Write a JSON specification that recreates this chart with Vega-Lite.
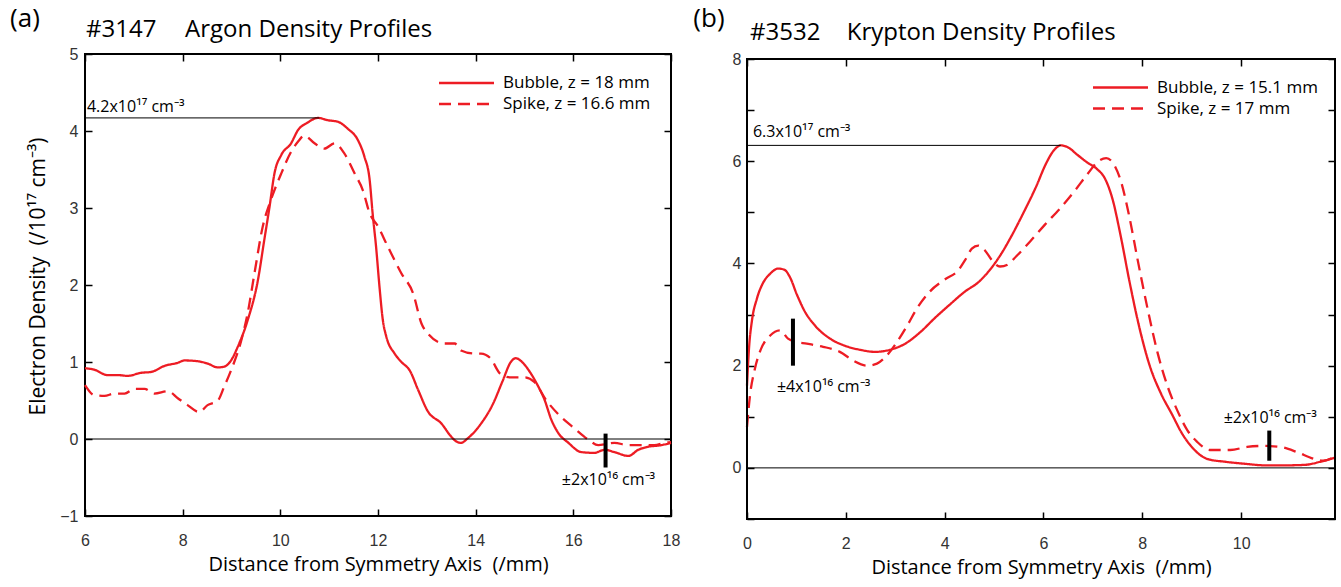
{
  "$schema": "https://vega.github.io/schema/vega-lite/v6.json",
  "background": "white",
  "padding": {"left": 9, "top": 4, "right": 0, "bottom": 8},
  "spacing": 12,
  "bounds": "full",
  "resolve": {"scale": {"strokeDash": "independent"}, "legend": {"strokeDash": "independent"}},
  "config": {
    "view": {"stroke": "#000", "strokeWidth": 2},
    "font": "Open Sans",
    "axis": {
      "domain": false, "grid": false, "ticks": true, "tickColor": "#000", "tickWidth": 1.5, "tickSize": -7,
      "labelFont": "Liberation Sans", "labelFontSize": 16, "labelColor": "#333", "labelFlush": false,
      "titleFont": "Open Sans", "titleFontSize": 20, "titleFontWeight": "normal", "titleColor": "#000"
    },
    "legend": {
      "orient": "none", "title": null, "symbolType": "M-5,0H5", "symbolSize": 121, "symbolStrokeWidth": 2.3,
      "symbolStrokeColor": "#ED1C24", "labelFont": "Open Sans", "labelFontSize": 17, "labelColor": "#000",
      "labelOffset": 28, "rowPadding": 3, "padding": 0, "labelLimit": 400
    },
    "text": {"font": "Open Sans", "color": "#000"}
  },
  "hconcat": [
    {
      "width": 586,
      "height": 462,
      "resolve": {"axis": {"x": "independent", "y": "independent"}},
      "layer": [
        {
          "data": {"values": [
            {"x": 6.0, "y": 0.92, "s": "Bubble, z = 18 mm"}, {"x": 6.19, "y": 0.90, "s": "Bubble, z = 18 mm"}, {"x": 6.46, "y": 0.83, "s": "Bubble, z = 18 mm"}, {"x": 6.67, "y": 0.83, "s": "Bubble, z = 18 mm"}, {"x": 6.87, "y": 0.82, "s": "Bubble, z = 18 mm"}, {"x": 7.15, "y": 0.86, "s": "Bubble, z = 18 mm"}, {"x": 7.35, "y": 0.87, "s": "Bubble, z = 18 mm"}, {"x": 7.63, "y": 0.95, "s": "Bubble, z = 18 mm"}, {"x": 7.90, "y": 0.99, "s": "Bubble, z = 18 mm"}, {"x": 8.04, "y": 1.02, "s": "Bubble, z = 18 mm"}, {"x": 8.31, "y": 1.01, "s": "Bubble, z = 18 mm"}, {"x": 8.51, "y": 0.98, "s": "Bubble, z = 18 mm"}, {"x": 8.72, "y": 0.93, "s": "Bubble, z = 18 mm"}, {"x": 8.85, "y": 0.94, "s": "Bubble, z = 18 mm"}, {"x": 8.99, "y": 1.02, "s": "Bubble, z = 18 mm"}, {"x": 9.13, "y": 1.20, "s": "Bubble, z = 18 mm"}, {"x": 9.33, "y": 1.54, "s": "Bubble, z = 18 mm"}, {"x": 9.54, "y": 2.06, "s": "Bubble, z = 18 mm"}, {"x": 9.67, "y": 2.58, "s": "Bubble, z = 18 mm"}, {"x": 9.78, "y": 3.02, "s": "Bubble, z = 18 mm"}, {"x": 9.88, "y": 3.45, "s": "Bubble, z = 18 mm"}, {"x": 10.02, "y": 3.69, "s": "Bubble, z = 18 mm"}, {"x": 10.22, "y": 3.84, "s": "Bubble, z = 18 mm"}, {"x": 10.36, "y": 4.01, "s": "Bubble, z = 18 mm"}, {"x": 10.56, "y": 4.11, "s": "Bubble, z = 18 mm"}, {"x": 10.77, "y": 4.17, "s": "Bubble, z = 18 mm"}, {"x": 10.97, "y": 4.14, "s": "Bubble, z = 18 mm"}, {"x": 11.18, "y": 4.12, "s": "Bubble, z = 18 mm"}, {"x": 11.38, "y": 4.03, "s": "Bubble, z = 18 mm"}, {"x": 11.59, "y": 3.88, "s": "Bubble, z = 18 mm"}, {"x": 11.72, "y": 3.67, "s": "Bubble, z = 18 mm"}, {"x": 11.83, "y": 3.36, "s": "Bubble, z = 18 mm"}, {"x": 11.89, "y": 2.93, "s": "Bubble, z = 18 mm"}, {"x": 11.96, "y": 2.50, "s": "Bubble, z = 18 mm"}, {"x": 12.03, "y": 1.98, "s": "Bubble, z = 18 mm"}, {"x": 12.10, "y": 1.54, "s": "Bubble, z = 18 mm"}, {"x": 12.17, "y": 1.33, "s": "Bubble, z = 18 mm"}, {"x": 12.34, "y": 1.11, "s": "Bubble, z = 18 mm"}, {"x": 12.48, "y": 1.00, "s": "Bubble, z = 18 mm"}, {"x": 12.65, "y": 0.89, "s": "Bubble, z = 18 mm"}, {"x": 12.82, "y": 0.64, "s": "Bubble, z = 18 mm"}, {"x": 13.02, "y": 0.36, "s": "Bubble, z = 18 mm"}, {"x": 13.30, "y": 0.20, "s": "Bubble, z = 18 mm"}, {"x": 13.50, "y": 0.03, "s": "Bubble, z = 18 mm"}, {"x": 13.60, "y": -0.03, "s": "Bubble, z = 18 mm"}, {"x": 13.70, "y": -0.05, "s": "Bubble, z = 18 mm"}, {"x": 13.84, "y": 0.01, "s": "Bubble, z = 18 mm"}, {"x": 14.11, "y": 0.20, "s": "Bubble, z = 18 mm"}, {"x": 14.35, "y": 0.45, "s": "Bubble, z = 18 mm"}, {"x": 14.55, "y": 0.75, "s": "Bubble, z = 18 mm"}, {"x": 14.72, "y": 1.00, "s": "Bubble, z = 18 mm"}, {"x": 14.82, "y": 1.05, "s": "Bubble, z = 18 mm"}, {"x": 14.95, "y": 1.00, "s": "Bubble, z = 18 mm"}, {"x": 15.10, "y": 0.88, "s": "Bubble, z = 18 mm"}, {"x": 15.25, "y": 0.72, "s": "Bubble, z = 18 mm"}, {"x": 15.41, "y": 0.51, "s": "Bubble, z = 18 mm"}, {"x": 15.55, "y": 0.25, "s": "Bubble, z = 18 mm"}, {"x": 15.69, "y": 0.08, "s": "Bubble, z = 18 mm"}, {"x": 15.90, "y": -0.05, "s": "Bubble, z = 18 mm"}, {"x": 16.16, "y": -0.17, "s": "Bubble, z = 18 mm"}, {"x": 16.43, "y": -0.18, "s": "Bubble, z = 18 mm"}, {"x": 16.64, "y": -0.14, "s": "Bubble, z = 18 mm"}, {"x": 16.84, "y": -0.17, "s": "Bubble, z = 18 mm"}, {"x": 17.13, "y": -0.22, "s": "Bubble, z = 18 mm"}, {"x": 17.33, "y": -0.14, "s": "Bubble, z = 18 mm"}, {"x": 17.54, "y": -0.10, "s": "Bubble, z = 18 mm"}, {"x": 17.80, "y": -0.08, "s": "Bubble, z = 18 mm"}, {"x": 18.0, "y": -0.05, "s": "Bubble, z = 18 mm"},
            {"x": 6.0, "y": 0.70, "s": "Spike, z = 16.6 mm"}, {"x": 6.19, "y": 0.57, "s": "Spike, z = 16.6 mm"}, {"x": 6.40, "y": 0.56, "s": "Spike, z = 16.6 mm"}, {"x": 6.60, "y": 0.59, "s": "Spike, z = 16.6 mm"}, {"x": 6.81, "y": 0.59, "s": "Spike, z = 16.6 mm"}, {"x": 7.01, "y": 0.65, "s": "Spike, z = 16.6 mm"}, {"x": 7.22, "y": 0.65, "s": "Spike, z = 16.6 mm"}, {"x": 7.42, "y": 0.59, "s": "Spike, z = 16.6 mm"}, {"x": 7.70, "y": 0.62, "s": "Spike, z = 16.6 mm"}, {"x": 7.90, "y": 0.53, "s": "Spike, z = 16.6 mm"}, {"x": 8.10, "y": 0.44, "s": "Spike, z = 16.6 mm"}, {"x": 8.34, "y": 0.35, "s": "Spike, z = 16.6 mm"}, {"x": 8.51, "y": 0.44, "s": "Spike, z = 16.6 mm"}, {"x": 8.72, "y": 0.50, "s": "Spike, z = 16.6 mm"}, {"x": 8.85, "y": 0.68, "s": "Spike, z = 16.6 mm"}, {"x": 8.99, "y": 0.89, "s": "Spike, z = 16.6 mm"}, {"x": 9.20, "y": 1.28, "s": "Spike, z = 16.6 mm"}, {"x": 9.33, "y": 1.63, "s": "Spike, z = 16.6 mm"}, {"x": 9.47, "y": 2.15, "s": "Spike, z = 16.6 mm"}, {"x": 9.64, "y": 2.76, "s": "Spike, z = 16.6 mm"}, {"x": 9.81, "y": 3.11, "s": "Spike, z = 16.6 mm"}, {"x": 10.02, "y": 3.45, "s": "Spike, z = 16.6 mm"}, {"x": 10.22, "y": 3.73, "s": "Spike, z = 16.6 mm"}, {"x": 10.36, "y": 3.86, "s": "Spike, z = 16.6 mm"}, {"x": 10.49, "y": 3.94, "s": "Spike, z = 16.6 mm"}, {"x": 10.70, "y": 3.84, "s": "Spike, z = 16.6 mm"}, {"x": 10.90, "y": 3.77, "s": "Spike, z = 16.6 mm"}, {"x": 11.11, "y": 3.84, "s": "Spike, z = 16.6 mm"}, {"x": 11.31, "y": 3.71, "s": "Spike, z = 16.6 mm"}, {"x": 11.52, "y": 3.45, "s": "Spike, z = 16.6 mm"}, {"x": 11.69, "y": 3.23, "s": "Spike, z = 16.6 mm"}, {"x": 11.83, "y": 2.93, "s": "Spike, z = 16.6 mm"}, {"x": 12.00, "y": 2.76, "s": "Spike, z = 16.6 mm"}, {"x": 12.20, "y": 2.50, "s": "Spike, z = 16.6 mm"}, {"x": 12.48, "y": 2.15, "s": "Spike, z = 16.6 mm"}, {"x": 12.72, "y": 1.89, "s": "Spike, z = 16.6 mm"}, {"x": 12.89, "y": 1.50, "s": "Spike, z = 16.6 mm"}, {"x": 13.02, "y": 1.37, "s": "Spike, z = 16.6 mm"}, {"x": 13.36, "y": 1.24, "s": "Spike, z = 16.6 mm"}, {"x": 13.57, "y": 1.24, "s": "Spike, z = 16.6 mm"}, {"x": 13.70, "y": 1.15, "s": "Spike, z = 16.6 mm"}, {"x": 13.98, "y": 1.11, "s": "Spike, z = 16.6 mm"}, {"x": 14.11, "y": 1.11, "s": "Spike, z = 16.6 mm"}, {"x": 14.30, "y": 1.05, "s": "Spike, z = 16.6 mm"}, {"x": 14.50, "y": 0.85, "s": "Spike, z = 16.6 mm"}, {"x": 14.70, "y": 0.80, "s": "Spike, z = 16.6 mm"}, {"x": 15.00, "y": 0.80, "s": "Spike, z = 16.6 mm"}, {"x": 15.20, "y": 0.74, "s": "Spike, z = 16.6 mm"}, {"x": 15.45, "y": 0.50, "s": "Spike, z = 16.6 mm"}, {"x": 15.71, "y": 0.31, "s": "Spike, z = 16.6 mm"}, {"x": 16.02, "y": 0.14, "s": "Spike, z = 16.6 mm"}, {"x": 16.31, "y": -0.01, "s": "Spike, z = 16.6 mm"}, {"x": 16.51, "y": -0.08, "s": "Spike, z = 16.6 mm"}, {"x": 16.84, "y": -0.05, "s": "Spike, z = 16.6 mm"}, {"x": 17.13, "y": -0.08, "s": "Spike, z = 16.6 mm"}, {"x": 17.39, "y": -0.08, "s": "Spike, z = 16.6 mm"}, {"x": 17.66, "y": -0.08, "s": "Spike, z = 16.6 mm"}, {"x": 17.87, "y": -0.05, "s": "Spike, z = 16.6 mm"}, {"x": 18.0, "y": -0.04, "s": "Spike, z = 16.6 mm"}
          ]},
          "mark": {"type": "line", "interpolate": "monotone", "strokeWidth": 2.3, "color": "#ED1C24"},
          "encoding": {
            "x": {"field": "x", "type": "quantitative", "scale": {"domain": [6, 18], "nice": false, "zero": false},
                  "axis": {"orient": "bottom", "values": [6, 8, 10, 12, 14, 16, 18], "title": "Distance from Symmetry Axis \u00a0(/mm)", "labelPadding": 23, "titlePadding": 6}},
            "y": {"field": "y", "type": "quantitative", "scale": {"domain": [-1, 5], "nice": false, "zero": false},
                  "axis": {"orient": "left", "values": [-1, 0, 1, 2, 3, 4, 5], "title": "Electron Density \u00a0(/10¹⁷ cm⁻³)", "titleFontSize": 21, "titleY": 222, "labelPadding": 14, "titlePadding": 11}},
            "strokeDash": {"field": "s", "type": "nominal",
                  "scale": {"domain": ["Bubble, z = 18 mm", "Spike, z = 16.6 mm"], "range": [[1, 0], [12, 7]]},
                  "legend": {"legendX": 373, "legendY": 20.5, "symbolType": "M-5,0H5", "symbolSize": 121}}
          }
        },
        {
          "data": {"values": [{"y": 0}]},
          "mark": {"type": "rule", "color": "#000", "strokeWidth": 1},
          "encoding": {
            "y": {"field": "y", "type": "quantitative", "scale": {"domain": [-1, 5], "nice": false, "zero": false},
                  "axis": {"orient": "right", "values": [-1, 0, 1, 2, 3, 4, 5], "labels": false, "title": null}}
          }
        },
        {
          "data": {"values": [{"x": 6, "x2": 10.8, "y": 4.17}]},
          "mark": {"type": "rule", "color": "#000", "strokeWidth": 1},
          "encoding": {
            "x": {"field": "x", "type": "quantitative", "scale": {"domain": [6, 18], "nice": false, "zero": false},
                  "axis": {"orient": "top", "values": [6, 8, 10, 12, 14, 16, 18], "labels": false, "title": null}},
            "x2": {"field": "x2"},
            "y": {"field": "y", "type": "quantitative", "scale": {"domain": [-1, 5], "nice": false, "zero": false}, "axis": null}
          }
        },
        {
          "data": {"values": [{"x": 16.66, "y": 0.07, "y2": -0.37}]},
          "mark": {"type": "rule", "color": "#000", "strokeWidth": 4},
          "encoding": {
            "x": {"field": "x", "type": "quantitative", "scale": {"domain": [6, 18], "nice": false, "zero": false}, "axis": null},
            "y": {"field": "y", "type": "quantitative", "scale": {"domain": [-1, 5], "nice": false, "zero": false}, "axis": null},
            "y2": {"field": "y2"}
          }
        },
        {
          "data": {"values": [{"x": 4.77, "y": 5.455, "t": "(a)"}]},
          "mark": {"type": "text", "fontSize": 26, "align": "center", "baseline": "middle"},
          "encoding": {
            "x": {"field": "x", "type": "quantitative", "scale": {"domain": [6, 18], "nice": false, "zero": false}, "axis": null},
            "y": {"field": "y", "type": "quantitative", "scale": {"domain": [-1, 5], "nice": false, "zero": false}, "axis": null},
            "text": {"field": "t"}
          }
        },
        {
          "data": {"values": [{"x": 6.02, "y": 5.31, "t": "#3147"}, {"x": 8.05, "y": 5.31, "t": "Argon Density Profiles"}]},
          "mark": {"type": "text", "fontSize": 24, "align": "left", "baseline": "middle"},
          "encoding": {
            "x": {"field": "x", "type": "quantitative", "scale": {"domain": [6, 18], "nice": false, "zero": false}, "axis": null},
            "y": {"field": "y", "type": "quantitative", "scale": {"domain": [-1, 5], "nice": false, "zero": false}, "axis": null},
            "text": {"field": "t"}
          }
        },
        {
          "data": {"values": [{"x": 6.04, "y": 4.31, "t": "4.2x10¹⁷ cm⁻³"}]},
          "mark": {"type": "text", "fontSize": 16, "align": "left", "baseline": "middle"},
          "encoding": {
            "x": {"field": "x", "type": "quantitative", "scale": {"domain": [6, 18], "nice": false, "zero": false}, "axis": null},
            "y": {"field": "y", "type": "quantitative", "scale": {"domain": [-1, 5], "nice": false, "zero": false}, "axis": null},
            "text": {"field": "t"}
          }
        },
        {
          "data": {"values": [{"x": 16.72, "y": -0.53, "t": "±2x10¹⁶ cm⁻³"}]},
          "mark": {"type": "text", "fontSize": 16, "align": "center", "baseline": "middle"},
          "encoding": {
            "x": {"field": "x", "type": "quantitative", "scale": {"domain": [6, 18], "nice": false, "zero": false}, "axis": null},
            "y": {"field": "y", "type": "quantitative", "scale": {"domain": [-1, 5], "nice": false, "zero": false}, "axis": null},
            "text": {"field": "t"}
          }
        }
      ]
    },
    {
      "width": 588,
      "height": 465,
      "view": {"stroke": null},
      "resolve": {"axis": {"x": "independent", "y": "independent"}},
      "layer": [
        {
          "data": {"values": [
            {"x": 0.0, "y": 1.61, "s": "Bubble, z = 15.1 mm"}, {"x": 0.04, "y": 2.33, "s": "Bubble, z = 15.1 mm"}, {"x": 0.10, "y": 2.88, "s": "Bubble, z = 15.1 mm"}, {"x": 0.20, "y": 3.31, "s": "Bubble, z = 15.1 mm"}, {"x": 0.32, "y": 3.61, "s": "Bubble, z = 15.1 mm"}, {"x": 0.47, "y": 3.80, "s": "Bubble, z = 15.1 mm"}, {"x": 0.63, "y": 3.90, "s": "Bubble, z = 15.1 mm"}, {"x": 0.75, "y": 3.88, "s": "Bubble, z = 15.1 mm"}, {"x": 0.87, "y": 3.73, "s": "Bubble, z = 15.1 mm"}, {"x": 1.01, "y": 3.39, "s": "Bubble, z = 15.1 mm"}, {"x": 1.17, "y": 3.06, "s": "Bubble, z = 15.1 mm"}, {"x": 1.38, "y": 2.78, "s": "Bubble, z = 15.1 mm"}, {"x": 1.68, "y": 2.53, "s": "Bubble, z = 15.1 mm"}, {"x": 1.98, "y": 2.39, "s": "Bubble, z = 15.1 mm"}, {"x": 2.29, "y": 2.31, "s": "Bubble, z = 15.1 mm"}, {"x": 2.59, "y": 2.27, "s": "Bubble, z = 15.1 mm"}, {"x": 2.89, "y": 2.31, "s": "Bubble, z = 15.1 mm"}, {"x": 3.20, "y": 2.43, "s": "Bubble, z = 15.1 mm"}, {"x": 3.50, "y": 2.65, "s": "Bubble, z = 15.1 mm"}, {"x": 3.81, "y": 2.94, "s": "Bubble, z = 15.1 mm"}, {"x": 4.11, "y": 3.20, "s": "Bubble, z = 15.1 mm"}, {"x": 4.41, "y": 3.45, "s": "Bubble, z = 15.1 mm"}, {"x": 4.68, "y": 3.63, "s": "Bubble, z = 15.1 mm"}, {"x": 4.92, "y": 3.88, "s": "Bubble, z = 15.1 mm"}, {"x": 5.12, "y": 4.15, "s": "Bubble, z = 15.1 mm"}, {"x": 5.36, "y": 4.55, "s": "Bubble, z = 15.1 mm"}, {"x": 5.60, "y": 5.00, "s": "Bubble, z = 15.1 mm"}, {"x": 5.85, "y": 5.50, "s": "Bubble, z = 15.1 mm"}, {"x": 6.05, "y": 5.95, "s": "Bubble, z = 15.1 mm"}, {"x": 6.20, "y": 6.20, "s": "Bubble, z = 15.1 mm"}, {"x": 6.35, "y": 6.31, "s": "Bubble, z = 15.1 mm"}, {"x": 6.50, "y": 6.27, "s": "Bubble, z = 15.1 mm"}, {"x": 6.68, "y": 6.13, "s": "Bubble, z = 15.1 mm"}, {"x": 6.88, "y": 5.98, "s": "Bubble, z = 15.1 mm"}, {"x": 7.08, "y": 5.85, "s": "Bubble, z = 15.1 mm"}, {"x": 7.25, "y": 5.65, "s": "Bubble, z = 15.1 mm"}, {"x": 7.40, "y": 5.25, "s": "Bubble, z = 15.1 mm"}, {"x": 7.56, "y": 4.55, "s": "Bubble, z = 15.1 mm"}, {"x": 7.74, "y": 3.65, "s": "Bubble, z = 15.1 mm"}, {"x": 7.94, "y": 2.75, "s": "Bubble, z = 15.1 mm"}, {"x": 8.15, "y": 2.00, "s": "Bubble, z = 15.1 mm"}, {"x": 8.38, "y": 1.45, "s": "Bubble, z = 15.1 mm"}, {"x": 8.60, "y": 1.05, "s": "Bubble, z = 15.1 mm"}, {"x": 8.80, "y": 0.68, "s": "Bubble, z = 15.1 mm"}, {"x": 9.01, "y": 0.40, "s": "Bubble, z = 15.1 mm"}, {"x": 9.33, "y": 0.17, "s": "Bubble, z = 15.1 mm"}, {"x": 9.68, "y": 0.12, "s": "Bubble, z = 15.1 mm"}, {"x": 10.08, "y": 0.08, "s": "Bubble, z = 15.1 mm"}, {"x": 10.49, "y": 0.05, "s": "Bubble, z = 15.1 mm"}, {"x": 10.89, "y": 0.05, "s": "Bubble, z = 15.1 mm"}, {"x": 11.30, "y": 0.06, "s": "Bubble, z = 15.1 mm"}, {"x": 11.60, "y": 0.12, "s": "Bubble, z = 15.1 mm"}, {"x": 11.90, "y": 0.20, "s": "Bubble, z = 15.1 mm"},
            {"x": 0.0, "y": 0.80, "s": "Spike, z = 17 mm"}, {"x": 0.06, "y": 1.41, "s": "Spike, z = 17 mm"}, {"x": 0.16, "y": 1.94, "s": "Spike, z = 17 mm"}, {"x": 0.26, "y": 2.27, "s": "Spike, z = 17 mm"}, {"x": 0.47, "y": 2.59, "s": "Spike, z = 17 mm"}, {"x": 0.67, "y": 2.69, "s": "Spike, z = 17 mm"}, {"x": 0.83, "y": 2.53, "s": "Spike, z = 17 mm"}, {"x": 0.97, "y": 2.47, "s": "Spike, z = 17 mm"}, {"x": 1.21, "y": 2.43, "s": "Spike, z = 17 mm"}, {"x": 1.54, "y": 2.37, "s": "Spike, z = 17 mm"}, {"x": 1.88, "y": 2.27, "s": "Spike, z = 17 mm"}, {"x": 2.15, "y": 2.10, "s": "Spike, z = 17 mm"}, {"x": 2.43, "y": 2.00, "s": "Spike, z = 17 mm"}, {"x": 2.63, "y": 2.04, "s": "Spike, z = 17 mm"}, {"x": 2.83, "y": 2.20, "s": "Spike, z = 17 mm"}, {"x": 3.04, "y": 2.47, "s": "Spike, z = 17 mm"}, {"x": 3.24, "y": 2.78, "s": "Spike, z = 17 mm"}, {"x": 3.44, "y": 3.12, "s": "Spike, z = 17 mm"}, {"x": 3.70, "y": 3.45, "s": "Spike, z = 17 mm"}, {"x": 4.01, "y": 3.69, "s": "Spike, z = 17 mm"}, {"x": 4.27, "y": 3.86, "s": "Spike, z = 17 mm"}, {"x": 4.41, "y": 4.06, "s": "Spike, z = 17 mm"}, {"x": 4.55, "y": 4.29, "s": "Spike, z = 17 mm"}, {"x": 4.68, "y": 4.35, "s": "Spike, z = 17 mm"}, {"x": 4.82, "y": 4.25, "s": "Spike, z = 17 mm"}, {"x": 4.96, "y": 4.06, "s": "Spike, z = 17 mm"}, {"x": 5.12, "y": 3.94, "s": "Spike, z = 17 mm"}, {"x": 5.28, "y": 3.98, "s": "Spike, z = 17 mm"}, {"x": 5.45, "y": 4.14, "s": "Spike, z = 17 mm"}, {"x": 5.73, "y": 4.43, "s": "Spike, z = 17 mm"}, {"x": 6.03, "y": 4.76, "s": "Spike, z = 17 mm"}, {"x": 6.34, "y": 5.08, "s": "Spike, z = 17 mm"}, {"x": 6.64, "y": 5.43, "s": "Spike, z = 17 mm"}, {"x": 6.90, "y": 5.76, "s": "Spike, z = 17 mm"}, {"x": 7.11, "y": 6.00, "s": "Spike, z = 17 mm"}, {"x": 7.27, "y": 6.06, "s": "Spike, z = 17 mm"}, {"x": 7.41, "y": 5.96, "s": "Spike, z = 17 mm"}, {"x": 7.57, "y": 5.60, "s": "Spike, z = 17 mm"}, {"x": 7.73, "y": 4.95, "s": "Spike, z = 17 mm"}, {"x": 7.91, "y": 4.05, "s": "Spike, z = 17 mm"}, {"x": 8.11, "y": 3.10, "s": "Spike, z = 17 mm"}, {"x": 8.31, "y": 2.25, "s": "Spike, z = 17 mm"}, {"x": 8.51, "y": 1.60, "s": "Spike, z = 17 mm"}, {"x": 8.71, "y": 1.12, "s": "Spike, z = 17 mm"}, {"x": 8.91, "y": 0.74, "s": "Spike, z = 17 mm"}, {"x": 9.11, "y": 0.51, "s": "Spike, z = 17 mm"}, {"x": 9.37, "y": 0.35, "s": "Spike, z = 17 mm"}, {"x": 9.78, "y": 0.35, "s": "Spike, z = 17 mm"}, {"x": 10.12, "y": 0.41, "s": "Spike, z = 17 mm"}, {"x": 10.45, "y": 0.43, "s": "Spike, z = 17 mm"}, {"x": 10.79, "y": 0.41, "s": "Spike, z = 17 mm"}, {"x": 11.13, "y": 0.31, "s": "Spike, z = 17 mm"}, {"x": 11.46, "y": 0.18, "s": "Spike, z = 17 mm"}, {"x": 11.66, "y": 0.14, "s": "Spike, z = 17 mm"}, {"x": 11.90, "y": 0.22, "s": "Spike, z = 17 mm"}
          ]},
          "mark": {"type": "line", "interpolate": "monotone", "strokeWidth": 2.3, "color": "#ED1C24"},
          "encoding": {
            "x": {"field": "x", "type": "quantitative", "scale": {"domain": [0, 11.9], "nice": false, "zero": false},
                  "axis": {"orient": "bottom", "values": [0, 2, 4, 6, 8, 10], "title": "Distance from Symmetry Axis \u00a0(/mm)", "labelPadding": 23, "titlePadding": 6}},
            "y": {"field": "y", "type": "quantitative", "scale": {"domain": [-1, 8.098], "nice": false, "zero": false},
                  "axis": {"orient": "left", "values": [-1, 0, 1, 2, 3, 4, 5, 6, 7, 8], "labelExpr": "datum.value % 2 == 0 ? datum.label : ''", "title": null, "labelPadding": 13}},
            "strokeDash": {"field": "s", "type": "nominal",
                  "scale": {"domain": ["Bubble, z = 15.1 mm", "Spike, z = 17 mm"], "range": [[1, 0], [12, 7]]},
                  "legend": {"legendX": 365, "legendY": 25, "symbolType": "M-5,0H5", "symbolSize": 121}}
          }
        },
        {
          "data": {"values": [{"x": 0, "x2": 11.9, "y": 8}, {"x": 0, "x2": 11.9, "y": -1}]},
          "mark": {"type": "rule", "color": "#000", "strokeWidth": 2, "strokeCap": "square"},
          "encoding": {
            "x": {"field": "x", "type": "quantitative", "scale": {"domain": [0, 11.9], "nice": false, "zero": false}, "axis": null},
            "x2": {"field": "x2"},
            "y": {"field": "y", "type": "quantitative", "scale": {"domain": [-1, 8.098], "nice": false, "zero": false}, "axis": null}
          }
        },
        {
          "data": {"values": [{"x": 0, "y": -1, "y2": 8}, {"x": 11.9, "y": -1, "y2": 8}]},
          "mark": {"type": "rule", "color": "#000", "strokeWidth": 2, "strokeCap": "square"},
          "encoding": {
            "x": {"field": "x", "type": "quantitative", "scale": {"domain": [0, 11.9], "nice": false, "zero": false}, "axis": null},
            "y": {"field": "y", "type": "quantitative", "scale": {"domain": [-1, 8.098], "nice": false, "zero": false}, "axis": null},
            "y2": {"field": "y2"}
          }
        },
        {
          "data": {"values": [{"y": 0}]},
          "mark": {"type": "rule", "color": "#000", "strokeWidth": 1},
          "encoding": {
            "y": {"field": "y", "type": "quantitative", "scale": {"domain": [-1, 8.098], "nice": false, "zero": false},
                  "axis": {"orient": "right", "values": [-1, 0, 1, 2, 3, 4, 5, 6, 7, 8], "labels": false, "title": null}}
          }
        },
        {
          "data": {"values": [{"x": 0, "x2": 6.35, "y": 6.31}]},
          "mark": {"type": "rule", "color": "#000", "strokeWidth": 1},
          "encoding": {
            "x": {"field": "x", "type": "quantitative", "scale": {"domain": [0, 11.9], "nice": false, "zero": false},
                  "axis": {"orient": "top", "offset": -5, "values": [0, 2, 4, 6, 8, 10], "labels": false, "title": null}},
            "x2": {"field": "x2"},
            "y": {"field": "y", "type": "quantitative", "scale": {"domain": [-1, 8.098], "nice": false, "zero": false}, "axis": null}
          }
        },
        {
          "data": {"values": [{"x": 0.93, "y": 2.92, "y2": 2.0}, {"x": 10.57, "y": 0.73, "y2": 0.14}]},
          "mark": {"type": "rule", "color": "#000", "strokeWidth": 4},
          "encoding": {
            "x": {"field": "x", "type": "quantitative", "scale": {"domain": [0, 11.9], "nice": false, "zero": false}, "axis": null},
            "y": {"field": "y", "type": "quantitative", "scale": {"domain": [-1, 8.098], "nice": false, "zero": false}, "axis": null},
            "y2": {"field": "y2"}
          }
        },
        {
          "data": {"values": [{"x": -0.77, "y": 8.78, "t": "(b)"}]},
          "mark": {"type": "text", "fontSize": 26, "align": "center", "baseline": "middle"},
          "encoding": {
            "x": {"field": "x", "type": "quantitative", "scale": {"domain": [0, 11.9], "nice": false, "zero": false}, "axis": null},
            "y": {"field": "y", "type": "quantitative", "scale": {"domain": [-1, 8.098], "nice": false, "zero": false}, "axis": null},
            "text": {"field": "t"}
          }
        },
        {
          "data": {"values": [{"x": 0.06, "y": 8.51, "t": "#3532"}, {"x": 2.02, "y": 8.51, "t": "Krypton Density Profiles"}]},
          "mark": {"type": "text", "fontSize": 24, "align": "left", "baseline": "middle"},
          "encoding": {
            "x": {"field": "x", "type": "quantitative", "scale": {"domain": [0, 11.9], "nice": false, "zero": false}, "axis": null},
            "y": {"field": "y", "type": "quantitative", "scale": {"domain": [-1, 8.098], "nice": false, "zero": false}, "axis": null},
            "text": {"field": "t"}
          }
        },
        {
          "data": {"values": [{"x": 0.12, "y": 6.57, "t": "6.3x10¹⁷ cm⁻³"}]},
          "mark": {"type": "text", "fontSize": 16, "align": "left", "baseline": "middle"},
          "encoding": {
            "x": {"field": "x", "type": "quantitative", "scale": {"domain": [0, 11.9], "nice": false, "zero": false}, "axis": null},
            "y": {"field": "y", "type": "quantitative", "scale": {"domain": [-1, 8.098], "nice": false, "zero": false}, "axis": null},
            "text": {"field": "t"}
          }
        },
        {
          "data": {"values": [{"x": 1.55, "y": 1.59, "t": "±4x10¹⁶ cm⁻³"}, {"x": 10.59, "y": 0.98, "t": "±2x10¹⁶ cm⁻³"}]},
          "mark": {"type": "text", "fontSize": 16, "align": "center", "baseline": "middle"},
          "encoding": {
            "x": {"field": "x", "type": "quantitative", "scale": {"domain": [0, 11.9], "nice": false, "zero": false}, "axis": null},
            "y": {"field": "y", "type": "quantitative", "scale": {"domain": [-1, 8.098], "nice": false, "zero": false}, "axis": null},
            "text": {"field": "t"}
          }
        }
      ]
    }
  ]
}
